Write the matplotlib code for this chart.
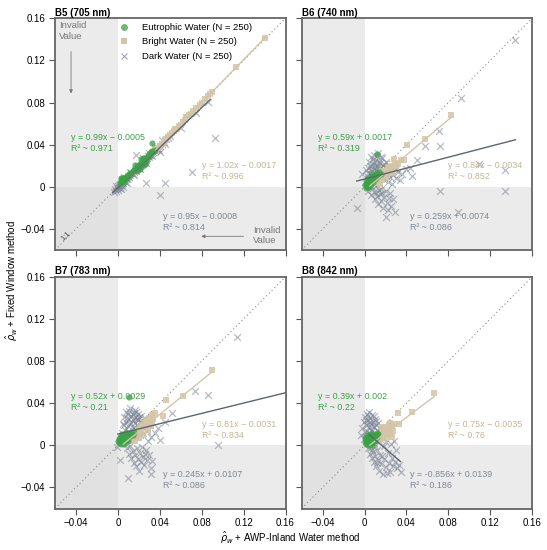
import matplotlib
matplotlib.use("Agg")
import matplotlib.pyplot as plt
from matplotlib.lines import Line2D
from matplotlib.ticker import FuncFormatter

plt.rcParams.update({
    "font.family": ["Liberation Sans", "DejaVu Sans"],
    "font.size": 6.8,
    "mathtext.fontset": "dejavusans",
})

GREEN, BEIGE, DARK = "#3aa246", "#d3c5a6", "#7a8494"
DARK_LINE, BEIGE_TXT, DARK_TXT = "#5d6572", "#c4b596", "#7f8794"

PANELS = ["B5 (705 nm)", "B6 (740 nm)", "B7 (783 nm)", "B8 (842 nm)"]

# regression: (slope, intercept, x_start, x_end)
FIT_EU = [(0.99, -0.0005, 0.002, 0.035), (0.59, 0.0017, 0.0, 0.014),
          (0.52, 0.0029, 0.0, 0.012), (0.39, 0.002, 0.0, 0.012)]
FIT_BR = [(1.02, -0.0017, 0.012, 0.141), (0.84, -0.0034, 0.005, 0.0825),
          (0.81, -0.0031, 0.005, 0.0898), (0.75, -0.0035, 0.005, 0.0664)]
FIT_DK = [(0.95, -0.0008, -0.005, 0.088), (0.259, 0.0074, -0.0075, 0.144),
          (0.245, 0.0107, 0.0, 0.16), (-0.856, 0.0139, 0.0044, 0.0343)]
EQ_EU = ["y = 0.99x − 0.0005\nR² ~ 0.971", "y = 0.59x + 0.0017\nR² ~ 0.319",
         "y = 0.52x + 0.0029\nR² ~ 0.21", "y = 0.39x + 0.002\nR² ~ 0.22"]
EQ_BR = ["y = 1.02x − 0.0017\nR² ~ 0.996", "y = 0.84x − 0.0034\nR² ~ 0.852",
         "y = 0.81x − 0.0031\nR² ~ 0.834", "y = 0.75x − 0.0035\nR² ~ 0.76"]
EQ_DK = ["y = 0.95x − 0.0008\nR² ~ 0.814", "y = 0.259x + 0.0074\nR² ~ 0.086",
         "y = 0.245x + 0.0107\nR² ~ 0.086", "y = -0.856x + 0.0139\nR² ~ 0.186"]

# ---- B5 points ----
B5_EU = [(0.002, 0.004), (0.003, 0.006), (0.004, 0.005), (0.004, 0.008), (0.005, 0.006),
         (0.005, 0.007), (0.006, 0.008), (0.006, 0.005), (0.007, 0.007), (0.008, 0.009),
         (0.008, 0.007), (0.009, 0.010), (0.010, 0.009), (0.011, 0.012), (0.012, 0.013),
         (0.013, 0.012), (0.014, 0.015), (0.015, 0.016), (0.016, 0.017), (0.017, 0.016),
         (0.018, 0.019), (0.019, 0.020), (0.020, 0.018), (0.020, 0.021), (0.021, 0.022),
         (0.022, 0.020), (0.023, 0.024), (0.024, 0.022), (0.025, 0.026), (0.026, 0.024),
         (0.027, 0.027), (0.028, 0.026), (0.029, 0.029), (0.030, 0.031), (0.031, 0.029),
         (0.032, 0.033), (0.033, 0.034), (0.034, 0.033), (0.035, 0.035), (0.033, 0.042),
         (0.016, 0.021), (0.018, 0.015), (0.022, 0.026), (0.025, 0.021), (0.003, 0.008),
         (0.021, 0.017), (0.024, 0.027), (0.027, 0.023)]
B5_BR = [(0.015, 0.014), (0.018, 0.017), (0.022, 0.021), (0.025, 0.024), (0.028, 0.027),
         (0.030, 0.029), (0.032, 0.031), (0.034, 0.033), (0.036, 0.035), (0.038, 0.037),
         (0.040, 0.039), (0.042, 0.041), (0.044, 0.043), (0.046, 0.045), (0.048, 0.047),
         (0.050, 0.049), (0.052, 0.051), (0.054, 0.053), (0.056, 0.055), (0.058, 0.058),
         (0.060, 0.059), (0.062, 0.062), (0.064, 0.063), (0.066, 0.066), (0.068, 0.068),
         (0.070, 0.069), (0.072, 0.072), (0.075, 0.075), (0.078, 0.078), (0.080, 0.080),
         (0.083, 0.083), (0.086, 0.086), (0.088, 0.088), (0.090, 0.090), (0.113, 0.1136),
         (0.140, 0.141), (0.035, 0.037), (0.045, 0.044), (0.055, 0.055), (0.065, 0.066)]
B5_DK = [(-0.004, -0.005), (-0.003, -0.002), (-0.002, -0.004), (-0.001, -0.001), (0.000, -0.003),
         (0.000, 0.001), (0.001, -0.001), (0.001, 0.002), (0.002, 0.000), (0.002, 0.003),
         (0.003, 0.002), (0.004, 0.003), (0.005, 0.004), (0.006, 0.006), (0.007, 0.005),
         (0.008, 0.008), (0.009, 0.007), (0.010, 0.010), (0.011, 0.009), (0.012, 0.011),
         (0.013, 0.013), (0.014, 0.012), (0.015, 0.014), (0.016, 0.016), (0.017, 0.015),
         (0.018, 0.017), (0.019, 0.019), (0.020, 0.018), (0.021, 0.020), (0.022, 0.021),
         (0.023, 0.022), (0.024, 0.024), (0.025, 0.023), (0.026, 0.025), (0.027, 0.026),
         (0.028, 0.027), (0.029, 0.029), (0.030, 0.028), (0.031, 0.030), (0.032, 0.031),
         (0.033, 0.032), (0.034, 0.033), (0.035, 0.034), (0.036, 0.035), (0.037, 0.036),
         (0.038, 0.037), (0.040, 0.039), (0.042, 0.041), (0.044, 0.043), (0.046, 0.045),
         (0.048, 0.046), (0.050, 0.048), (0.060, 0.056), (0.075, 0.070), (0.086, 0.081),
         (0.0924, 0.0463), (0.0704, 0.014), (0.027, 0.0036), (0.045, 0.0036),
         (0.040, -0.008), (0.017, 0.030), (0.0405, 0.0334), (0.005, 0.000), (0.003, -0.002),
         (0.006, 0.009), (0.009, 0.004), (0.012, 0.014), (0.015, 0.011), (0.018, 0.020),
         (0.021, 0.017), (0.024, 0.027), (0.027, 0.023), (0.030, 0.032), (0.033, 0.029),
         (0.036, 0.038), (0.039, 0.035), (0.042, 0.044), (0.045, 0.041), (-0.002, 0.001)]

# ---- B6 points ----
B6_EU = [(0.000, 0.002), (0.001, 0.004), (0.002, 0.001), (0.002, 0.006), (0.003, 0.003),
         (0.003, 0.008), (0.004, 0.005), (0.004, 0.002), (0.005, 0.007), (0.005, 0.004),
         (0.006, 0.009), (0.006, 0.003), (0.007, 0.006), (0.007, 0.011), (0.008, 0.008),
         (0.008, 0.005), (0.009, 0.010), (0.010, 0.007), (0.010, 0.012), (0.011, 0.009),
         (0.012, 0.013), (0.013, 0.010), (0.014, 0.014), (0.0117, 0.031), (0.001, -0.001),
         (0.003, 0.000), (0.016, 0.012), (0.002, 0.004), (0.004, 0.000), (0.006, 0.006)]
B6_BR = [(0.006, 0.002), (0.008, 0.004), (0.010, 0.005), (0.012, 0.007), (0.013, 0.004),
         (0.014, 0.009), (0.015, 0.008), (0.016, 0.011), (0.017, 0.006), (0.018, 0.012),
         (0.019, 0.010), (0.020, 0.014), (0.021, 0.012), (0.022, 0.016), (0.023, 0.013),
         (0.024, 0.018), (0.025, 0.015), (0.026, 0.020), (0.027, 0.017), (0.028, 0.0265),
         (0.030, 0.020), (0.032, 0.022), (0.035, 0.025), (0.0375, 0.025), (0.0406, 0.0397),
         (0.0573, 0.0454), (0.0825, 0.068), (0.011, 0.011), (0.009, 0.008), (0.015, 0.003),
         (0.017, 0.015), (0.020, 0.009), (0.023, 0.019), (0.026, 0.013), (0.029, 0.023)]
B6_DK = [(0.002, 0.010), (0.003, 0.018), (0.004, 0.006), (0.004, 0.024), (0.005, 0.013),
         (0.005, 0.002), (0.006, 0.020), (0.006, 0.028), (0.007, 0.009), (0.007, 0.015),
         (0.008, 0.004), (0.008, 0.022), (0.009, 0.012), (0.009, 0.030), (0.010, 0.018),
         (0.010, 0.007), (0.011, 0.025), (0.011, 0.001), (0.012, 0.014), (0.012, 0.020),
         (0.013, 0.009), (0.013, 0.032), (0.014, 0.016), (0.014, 0.004), (0.015, 0.023),
         (0.015, 0.011), (0.016, 0.019), (0.016, -0.002), (0.017, 0.013), (0.017, 0.027),
         (0.018, 0.007), (0.018, 0.021), (0.019, 0.015), (0.020, 0.010), (0.020, 0.024),
         (0.021, 0.017), (0.022, 0.005), (0.022, 0.012), (0.023, 0.020), (0.024, 0.009),
         (0.025, 0.015), (0.026, 0.003), (0.027, 0.011), (0.028, 0.018), (0.030, 0.008),
         (0.032, 0.014), (0.034, 0.006), (0.036, 0.012), (0.040, 0.017), (0.045, 0.010),
         (0.003, -0.004), (0.006, -0.008), (0.009, -0.005), (0.010, -0.012), (0.012, -0.009),
         (0.013, -0.016), (0.015, -0.007), (0.016, -0.013), (0.018, -0.020), (0.019, -0.010),
         (0.021, -0.015), (0.022, -0.022), (0.024, -0.006), (0.025, -0.018), (0.027, -0.012),
         (0.029, -0.024), (0.020, -0.0285), (0.000, 0.005), (-0.002, 0.012), (0.001, 0.016),
         (0.006, 0.017), (0.008, 0.026), (0.010, 0.021), (0.012, 0.029), (0.014, 0.024),
         (0.016, 0.028), (0.011, 0.016), (0.013, 0.019), (0.009, 0.024), (0.007, 0.012),
         (0.005, 0.020), (0.003, 0.013), (0.019, 0.022), (0.017, 0.009), (0.014, -0.003),
         (0.011, -0.006), (0.008, -0.001), (0.017, -0.006), (0.020, -0.004), (0.023, -0.011),
         (0.144, 0.1397), (0.0919, 0.084), (0.0714, 0.053), (0.058, 0.039), (0.0723, 0.039),
         (0.0723, -0.0043), (0.134, -0.0043), (0.134, 0.0164), (0.109, 0.022),
         (-0.0075, -0.020), (0.0894, -0.0238), (0.050, 0.025), (0.043, 0.018), (0.0296, 0.017)]

# ---- B7 points ----
B7_EU = [(0.000, 0.004), (0.001, 0.006), (0.002, 0.003), (0.002, 0.008), (0.003, 0.005),
         (0.003, 0.001), (0.004, 0.007), (0.004, 0.004), (0.005, 0.009), (0.005, 0.002),
         (0.006, 0.006), (0.006, 0.010), (0.007, 0.004), (0.007, 0.008), (0.008, 0.007),
         (0.008, 0.012), (0.009, 0.005), (0.009, 0.010), (0.010, 0.008), (0.011, 0.011),
         (0.012, 0.009), (0.013, 0.012), (0.014, 0.010), (0.0106, 0.0456), (0.001, 0.002),
         (0.003, 0.009), (0.006, 0.001), (0.015, 0.013), (0.004, 0.011), (0.010, 0.004)]
B7_BR = [(0.006, 0.003), (0.008, 0.005), (0.010, 0.006), (0.012, 0.004), (0.013, 0.008),
         (0.014, 0.011), (0.015, 0.006), (0.016, 0.010), (0.017, 0.013), (0.018, 0.008),
         (0.019, 0.015), (0.020, 0.012), (0.021, 0.017), (0.022, 0.014), (0.023, 0.019),
         (0.024, 0.016), (0.025, 0.021), (0.026, 0.018), (0.027, 0.024), (0.028, 0.020),
         (0.030, 0.026), (0.031, 0.022), (0.033, 0.029), (0.034, 0.025), (0.035, 0.031),
         (0.0427, 0.0282), (0.0459, 0.043), (0.0625, 0.047), (0.0898, 0.0713), (0.032, 0.018),
         (0.016, 0.004), (0.020, 0.007), (0.024, 0.010), (0.029, 0.015), (0.033, 0.021)]
B7_DK = [(0.004, 0.012), (0.005, 0.020), (0.006, 0.027), (0.007, 0.015), (0.008, 0.032),
         (0.008, 0.022), (0.009, 0.009), (0.010, 0.018), (0.010, 0.030), (0.011, 0.025),
         (0.011, 0.013), (0.012, 0.035), (0.012, 0.020), (0.013, 0.028), (0.013, 0.007),
         (0.014, 0.016), (0.014, 0.024), (0.015, 0.031), (0.015, 0.011), (0.016, 0.021),
         (0.016, 0.034), (0.017, 0.014), (0.017, 0.027), (0.018, 0.019), (0.018, 0.008),
         (0.019, 0.024), (0.019, 0.030), (0.020, 0.015), (0.021, 0.022), (0.021, 0.010),
         (0.022, 0.028), (0.023, 0.017), (0.024, 0.012), (0.025, 0.020), (0.026, 0.026),
         (0.028, 0.014), (0.030, 0.019), (0.032, 0.008), (0.035, 0.012), (0.038, 0.016),
         (0.007, 0.002), (0.009, -0.003), (0.011, -0.008), (0.012, -0.001), (0.013, -0.012),
         (0.014, -0.005), (0.015, -0.017), (0.016, -0.009), (0.017, -0.020), (0.018, -0.003),
         (0.019, -0.013), (0.020, -0.024), (0.021, -0.007), (0.022, -0.016), (0.024, -0.011),
         (0.025, -0.019), (0.027, -0.004), (0.028, -0.014), (0.030, -0.009), (0.033, -0.015),
         (0.006, 0.019), (0.009, 0.026), (0.011, 0.033), (0.013, 0.021), (0.015, 0.026),
         (0.017, 0.032), (0.019, 0.018), (0.020, 0.027), (0.022, 0.023), (0.014, 0.030),
         (0.010, 0.014), (0.016, 0.016), (0.018, 0.025), (0.023, -0.002), (0.026, -0.008),
         (0.1134, 0.103), (0.074, 0.0518), (0.086, 0.048), (0.096, 0.000), (0.052, 0.031),
         (-0.0013, -0.0016), (0.0025, -0.0136), (0.0097, -0.0306), (0.0317, -0.022),
         (0.0317, -0.027), (0.045, 0.022), (0.040, 0.005), (0.029, 0.004)]

# ---- B8 points ----
B8_EU = [(0.000, 0.003), (0.001, 0.006), (0.001, 0.001), (0.002, 0.004), (0.002, 0.008),
         (0.003, 0.002), (0.003, 0.006), (0.004, 0.009), (0.004, 0.004), (0.005, 0.001),
         (0.005, 0.007), (0.006, 0.005), (0.006, 0.010), (0.007, 0.003), (0.007, 0.008),
         (0.008, 0.006), (0.008, 0.011), (0.009, 0.004), (0.009, 0.009), (0.010, 0.007),
         (0.011, 0.010), (0.012, 0.008), (0.013, 0.011), (0.003, 0.000), (0.005, 0.011),
         (0.010, 0.004), (0.002, 0.010), (0.012, 0.012), (0.000, 0.007), (0.007, 0.000)]
B8_BR = [(0.005, 0.002), (0.007, 0.004), (0.009, 0.003), (0.010, 0.006), (0.011, 0.009),
         (0.012, 0.005), (0.013, 0.008), (0.014, 0.011), (0.015, 0.007), (0.016, 0.010),
         (0.017, 0.013), (0.018, 0.009), (0.019, 0.015), (0.020, 0.012), (0.021, 0.017),
         (0.022, 0.014), (0.023, 0.019), (0.024, 0.016), (0.025, 0.011), (0.026, 0.018),
         (0.027, 0.014), (0.028, 0.020), (0.032, 0.0305), (0.0327, 0.0204),
         (0.0453, 0.0314), (0.0664, 0.0493), (0.014, 0.004), (0.020, 0.007),
         (0.017, 0.017), (0.021, 0.010), (0.024, 0.021), (0.026, 0.008)]
B8_DK = [(-0.003, 0.010), (-0.002, 0.016), (-0.001, 0.022), (0.000, 0.013), (0.000, 0.027),
         (0.001, 0.008), (0.001, 0.019), (0.002, 0.030), (0.002, 0.014), (0.003, 0.024),
         (0.003, 0.005), (0.004, 0.017), (0.004, 0.032), (0.005, 0.011), (0.005, 0.026),
         (0.006, 0.020), (0.006, 0.003), (0.007, 0.014), (0.007, 0.029), (0.008, 0.009),
         (0.008, 0.022), (0.009, 0.017), (0.009, 0.002), (0.010, 0.012), (0.010, 0.025),
         (0.011, 0.019), (0.012, 0.007), (0.012, 0.015), (0.013, 0.021), (0.014, 0.010),
         (0.015, 0.016), (0.016, 0.005), (0.017, 0.012), (0.018, 0.008), (0.020, 0.003),
         (0.003, -0.003), (0.005, -0.008), (0.006, -0.002), (0.007, -0.012), (0.008, -0.006),
         (0.009, -0.016), (0.010, -0.010), (0.011, -0.020), (0.012, -0.004), (0.013, -0.014),
         (0.014, -0.024), (0.015, -0.009), (0.016, -0.018), (0.018, -0.027), (0.019, -0.013),
         (0.020, -0.021), (0.022, -0.007), (0.023, -0.017), (0.024, -0.025), (0.026, -0.012),
         (0.027, -0.020), (0.029, -0.016), (0.031, -0.022), (0.033, -0.019), (0.035, -0.025),
         (0.025, 0.001), (0.028, 0.004), (0.030, -0.004), (0.019, -0.001),
         (-0.001, 0.006), (0.001, 0.024), (0.003, 0.020), (0.004, 0.012), (0.006, 0.015),
         (0.008, 0.018), (0.009, 0.028), (0.011, 0.023), (0.003, 0.028), (0.005, 0.022),
         (0.007, -0.004), (0.010, -0.001), (0.012, -0.017), (0.017, -0.010), (0.021, -0.026)]

EU_PTS = [B5_EU, B6_EU, B7_EU, B8_EU]
BR_PTS = [B5_BR, B6_BR, B7_BR, B8_BR]
DK_PTS = [B5_DK, B6_DK, B7_DK, B8_DK]

XMIN, XMAX = -0.06, 0.16
TICKS = [-0.04, 0, 0.04, 0.08, 0.12, 0.16]

fig = plt.figure(figsize=(5.47, 5.50), dpi=100)
W, H = 230.5 / 547, 231.7 / 550
lefts = [55 / 547, 301.7 / 547]
bottoms = [1 - 250 / 550, 1 - 508.5 / 550]


def fmt(v, pos):
    return "0" if abs(v) < 1e-9 else f"{v:.2f}".replace("-", "\u2212")


for i, title in enumerate(PANELS):
    r, c = divmod(i, 2)
    ax = fig.add_axes([lefts[c], bottoms[r], W, H])
    ax.set_xlim(XMIN, XMAX); ax.set_ylim(XMIN, XMAX)
    ax.axvspan(XMIN, 0, color="#d9d9d9", alpha=0.5, lw=0, zorder=0)
    ax.axhspan(XMIN, 0, color="#d9d9d9", alpha=0.5, lw=0, zorder=0)
    ax.plot([XMIN, XMAX], [XMIN, XMAX], ls=(0, (1, 2.5)), color="#8a8a8a", lw=0.8, zorder=1)

    dk, br, eu = DK_PTS[i], BR_PTS[i], EU_PTS[i]
    ax.scatter([p[0] for p in dk], [p[1] for p in dk], marker="x", s=24, lw=0.9,
               color=DARK, alpha=0.55, zorder=2)
    ax.scatter([p[0] for p in br], [p[1] for p in br], marker="s", s=19, lw=0,
               color=BEIGE, alpha=0.85, zorder=3)
    ax.scatter([p[0] for p in eu], [p[1] for p in eu], marker="o", s=20, lw=0,
               color=GREEN, alpha=0.75, zorder=4)

    for (m, b, x0, x1), col, z in [(FIT_BR[i], BEIGE, 5), (FIT_DK[i], DARK_LINE, 6),
                                   (FIT_EU[i], GREEN, 7)]:
        ax.plot([x0, x1], [m * x0 + b, m * x1 + b], color=col, lw=1.0, zorder=z)

    ax.text(-0.0445, 0.0415, EQ_EU[i], color=GREEN, fontsize=6.4, va="center",
            linespacing=1.3, zorder=8)
    ax.text(0.080, 0.0148, EQ_BR[i], color=BEIGE_TXT, fontsize=6.4, va="center",
            linespacing=1.3, zorder=8)
    ax.text(0.0435, -0.0333, EQ_DK[i], color=DARK_TXT, fontsize=6.4, va="center",
            linespacing=1.3, zorder=8)

    ax.set_title(title, loc="left", fontsize=7, fontweight="bold", pad=2)
    ax.set_xticks(TICKS); ax.set_yticks(TICKS)
    ax.xaxis.set_major_formatter(FuncFormatter(fmt))
    ax.yaxis.set_major_formatter(FuncFormatter(fmt))
    ax.tick_params(direction="out", length=4, width=0.8, color="#555555",
                   labelsize=7, pad=3)
    if r == 0:
        ax.tick_params(labelbottom=False)
    if c == 1:
        ax.tick_params(labelleft=False)
    for sp in ax.spines.values():
        sp.set_color("#666666"); sp.set_linewidth(1.3)

    if i == 0:
        handles = [
            Line2D([], [], marker="o", ls="", color=GREEN, alpha=0.75, markersize=5, mew=0),
            Line2D([], [], marker="s", ls="", color=BEIGE, markersize=5, mew=0),
            Line2D([], [], marker="x", ls="", color=DARK, alpha=0.7, markersize=5, mew=0.8),
        ]
        ax.legend(handles, ["Eutrophic Water (N = 250)", "Bright Water (N = 250)",
                            "Dark Water (N = 250)"],
                  loc="upper left", bbox_to_anchor=(0.235, 1.005), frameon=False,
                  fontsize=6.8, handletextpad=0.9, labelspacing=0.6, borderaxespad=0.2)
        ax.text(-0.0565, 0.148, "Invalid\nValue", color="#777777", fontsize=6.8,
                va="center", linespacing=1.2)
        ax.annotate("", xy=(-0.0447, 0.086), xytext=(-0.0447, 0.131),
                    arrowprops=dict(arrowstyle="-|>", color="#777777", lw=0.6,
                                    mutation_scale=5))
        ax.text(0.129, -0.0465, "Invalid\nValue", color="#777777", fontsize=6.8,
                va="center", linespacing=1.2)
        ax.annotate("", xy=(0.077, -0.047), xytext=(0.1226, -0.047),
                    arrowprops=dict(arrowstyle="-|>", color="#777777", lw=0.6,
                                    mutation_scale=5))
        ax.text(-0.055, -0.053, "1:1", rotation=45, fontsize=5.5, color="#444444",
                ha="left", va="bottom")

fig.text(0.022, 0.49, r"$\hat{\rho}_w$ + Fixed Window method", rotation=90,
         ha="center", va="center", fontsize=7)
fig.text(0.53, 0.022, r"$\hat{\rho}_w$ + AWP-Inland Water method",
         ha="center", va="center", fontsize=7)

fig.savefig("out.png", dpi=100)
